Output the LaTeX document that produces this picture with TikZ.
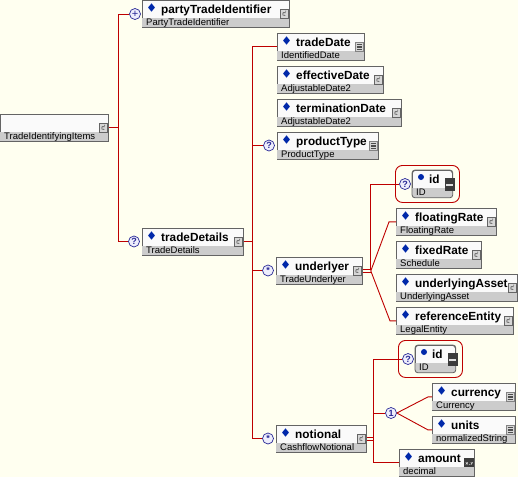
\documentclass[tikz,border=0pt]{standalone}
\usepackage{fontspec}
\setmainfont{Liberation Sans}
\usetikzlibrary{calc,shapes.geometric}

\definecolor{bgc}{RGB}{255,255,240}
\definecolor{bordc}{RGB}{100,100,100}
\definecolor{topc}{RGB}{250,250,250}
\definecolor{bandc}{RGB}{204,204,204}
\definecolor{linec}{RGB}{190,0,0}
\definecolor{diamc}{RGB}{0,40,170}
\definecolor{symc}{RGB}{40,40,150}
\definecolor{symfill}{RGB}{238,238,252}
\definecolor{iconfill}{RGB}{215,215,215}
\definecolor{darkicon}{RGB}{60,60,60}

\tikzset{
 elbox/.style={draw=bordc, fill=topc, anchor=north west, minimum height=27pt, inner sep=0pt, line width=0.8pt},
 nametext/.style={anchor=base west, inner sep=0pt, font=\fontsize{11.8}{12}\selectfont\bfseries},
 typetext/.style={anchor=base west, inner sep=0pt, font=\fontsize{9.5}{10}\selectfont},
 diam/.style={diamond, fill=diamc, inner sep=0pt, minimum width=7pt, minimum height=8.5pt},
 sym/.style={circle, draw=symc, fill=symfill, line width=0.7pt, minimum size=11pt, inner sep=0pt, text=symc, font=\fontsize{9}{9}\selectfont\bfseries},
 conn/.style={draw=linec, line width=0.9pt},
 redbox/.style={draw=linec, fill=bgc, line width=0.9pt, rounded corners=7pt, anchor=north west, minimum width=64pt, minimum height=37pt, inner sep=0pt},
 attbox/.style={draw=bordc, fill=topc, rounded corners=3pt, anchor=north west, minimum width=40pt, minimum height=27pt, inner sep=0pt, line width=0.8pt},
}

\newcommand\iconc[1]{%
 \node[draw=bordc, fill=iconfill, line width=0.6pt, minimum size=8.5pt, inner sep=0pt] (#1-i) at ([xshift=-5.5pt]#1.east) {};
 \draw[black!75, line width=0.6pt] ([xshift=1.3pt,yshift=1.1pt]#1-i.center) arc[start angle=40, end angle=310, radius=1.8pt];
 \fill[black!75] ([xshift=1.4pt,yshift=2.7pt]#1-i.center) circle[radius=0.5pt];
}
\newcommand\icons[1]{%
 \node[draw=bordc!80, fill=iconfill, line width=0.5pt, minimum width=8pt, minimum height=9pt, inner sep=0pt] (#1-i) at ([xshift=-5.5pt]#1.east) {};
 \foreach \k in {-2.6,-0.9,0.8,2.5} \draw[black!70, line width=0.7pt] ([xshift=-2.6pt,yshift=\k pt]#1-i.center) -- ([xshift=2.6pt,yshift=\k pt]#1-i.center);
}
\newcommand\iconx[1]{%
 \node[fill=darkicon, minimum width=10pt, minimum height=9pt, inner sep=0pt] (#1-i) at ([xshift=-5.5pt]#1.east) {};
 \draw[white!80!gray, line width=0.5pt] ([xshift=-3.5pt,yshift=-1.5pt]#1-i.center) -- ([xshift=-1.5pt,yshift=0.5pt]#1-i.center)
   ([xshift=-3.5pt,yshift=0.5pt]#1-i.center) -- ([xshift=-1.5pt,yshift=-1.5pt]#1-i.center)
   ([xshift=1.5pt,yshift=0.5pt]#1-i.center) -- ([xshift=2.5pt,yshift=-0.5pt]#1-i.center)
   ([xshift=3.5pt,yshift=0.5pt]#1-i.center) -- ([xshift=1.5pt,yshift=-1.8pt]#1-i.center);
 \fill[white!80!gray] ([yshift=-1.5pt]#1-i.center) circle[radius=0.4pt];
}
\newcommand\xelem[7]{%
 \node[elbox, minimum width=#4pt] (#1) at (#2,#3) {};
 \fill[bandc] ([xshift=0.4pt,yshift=0.4pt]#1.south west) rectangle ([xshift=-0.4pt,yshift=10pt]#1.south east);
 \node[diam] (#1-d) at ([xshift=9.5pt,yshift=-7.5pt]#1.north west) {};
 \node[nametext] (#1-n) at ([xshift=19pt,yshift=-13pt]#1.north west) {#5};
 \node[typetext] (#1-t) at ([xshift=4pt,yshift=2.5pt]#1.south west) {#6};
 #7{#1}
}
\newcommand\xattr[3]{%
 \node[redbox] (#1) at (#2,#3) {};
 \node[sym] (#1-q) at ([xshift=10pt,yshift=-19pt]#1.north west) {?};
 \node[attbox] (#1-b) at ([xshift=17pt,yshift=-5pt]#1.north west) {};
 \begin{scope}
  \clip[rounded corners=3pt] (#1-b.north west) rectangle (#1-b.south east);
  \fill[bandc] ([yshift=10pt]#1-b.south west) rectangle (#1-b.south east);
 \end{scope}
 \draw[bordc, line width=0.8pt, rounded corners=3pt] (#1-b.north west) rectangle (#1-b.south east);
 \node[circle, fill=diamc, minimum size=6pt, inner sep=0pt] (#1-dot) at ([xshift=9pt,yshift=-7pt]#1-b.north west) {};
 \node[nametext] (#1-n) at ([xshift=17pt,yshift=-13pt]#1-b.north west) {id};
 \node[typetext] (#1-t) at ([xshift=4pt,yshift=2.5pt]#1-b.south west) {ID};
 \node[fill=darkicon, minimum width=10pt, minimum height=13pt, inner sep=0pt] (#1-i) at ([xshift=-3pt,yshift=-1pt]#1-b.east) {};
 \draw[white!75!gray, line width=1.3pt] ([xshift=-3.5pt]#1-i.center) -- ([xshift=3.5pt]#1-i.center);
}

\begin{document}
\begin{tikzpicture}[x=1pt,y=-1pt]
\useasboundingbox (0,0) rectangle (518,477);
\fill[bgc] (0,0) rectangle (518,477);

% root
\node[elbox, minimum width=108pt] (tii) at (0,114) {};
\fill[bandc] ([xshift=0.4pt,yshift=0.4pt]tii.south west) rectangle ([xshift=-0.4pt,yshift=10pt]tii.south east);
\node[typetext] (tii-t) at ([xshift=4pt,yshift=2.5pt]tii.south west) {TradeIdentifyingItems};
\iconc{tii}

% level 1
\xelem{pti}{142}{0}{147}{partyTradeIdentifier}{PartyTradeIdentifier}{\iconc}
\node[sym, font=\fontsize{11}{11}\selectfont] (s-pti) at (135,14) {+};
\xelem{td}{142}{228}{101}{tradeDetails}{TradeDetails}{\iconc}
\node[sym] (s-td) at (134,241.5) {?};

% level 2
\xelem{tdate}{277}{33}{87}{tradeDate}{IdentifiedDate}{\icons}
\xelem{ed}{277}{66}{106}{effectiveDate}{AdjustableDate2}{\iconc}
\xelem{termd}{277}{99}{124}{terminationDate}{AdjustableDate2}{\iconc}
\xelem{pt}{277}{132}{101}{productType}{ProductType}{\icons}
\node[sym] (s-pt) at (269,145.5) {?};
\xelem{ul}{276}{257}{86}{underlyer}{TradeUnderlyer}{\iconc}
\node[sym] (s-ul) at (268,270.5) {*};
\xelem{nt}{276}{425}{90}{notional}{CashflowNotional}{\iconc}
\node[sym] (s-nt) at (268,438.5) {*};

% underlyer children
\xattr{a1}{395}{165}
\xelem{fr}{396}{208}{100}{floatingRate}{FloatingRate}{\iconc}
\xelem{fx}{396}{241}{85}{fixedRate}{Schedule}{\iconc}
\xelem{ua}{396}{274}{121}{underlyingAsset}{UnderlyingAsset}{\iconc}
\xelem{re}{396}{307}{117}{referenceEntity}{LegalEntity}{\iconc}

% notional children
\xattr{a2}{398}{340}
\node[sym] (s-one) at (391,413) {1};
\xelem{cu}{432}{383}{83}{currency}{Currency}{\icons}
\xelem{un}{432}{416}{83}{units}{normalizedString}{\icons}
\xelem{am}{399}{449}{75}{amount}{decimal}{\iconx}

% connectors
\draw[conn] (tii.east) -- ++(10,0) coordinate (j1);
\draw[conn] (s-pti.west) -| (j1) |- (s-td.west);

\draw[conn] (td.east) -- ++(9,0) coordinate (j2);
\draw[conn] (tdate.west) -| (j2) |- (s-nt.west);
\draw[conn] (j2) |- (s-pt.west);
\draw[conn] (j2) |- (s-ul.west);

\coordinate (j3) at ([xshift=8pt]ul.east);
\draw[conn, line width=0.7pt] ([yshift=1.4pt]ul.east) -- ([yshift=1.4pt]j3);
\draw[conn, line width=0.7pt] ([yshift=-1.4pt]ul.east) -- ([yshift=-1.4pt]j3);
\draw[conn] ([yshift=1.4pt]j3) |- (a1-q.west);
\draw[conn] (j3) -- ([xshift=-7pt]fr.west) -- (fr.west);
\draw[conn] (j3) -- ([xshift=-6pt]re.west) -- (re.west);

\coordinate (j4) at ([xshift=7pt]nt.east);
\draw[conn, line width=0.7pt] ([yshift=1.4pt]nt.east) -- ([yshift=1.4pt]j4);
\draw[conn, line width=0.7pt] ([yshift=-1.4pt]nt.east) -- ([yshift=-1.4pt]j4);
\draw[conn] (a2-q.west) -| (j4) |- (am.west);
\draw[conn] (j4) |- (s-one.west);
\draw[conn] (s-one.east) -- ([xshift=-4pt]cu.west) -- (cu.west);
\draw[conn] (s-one.east) -- ([xshift=-4pt]un.west) -- (un.west);
\end{tikzpicture}
\end{document}
